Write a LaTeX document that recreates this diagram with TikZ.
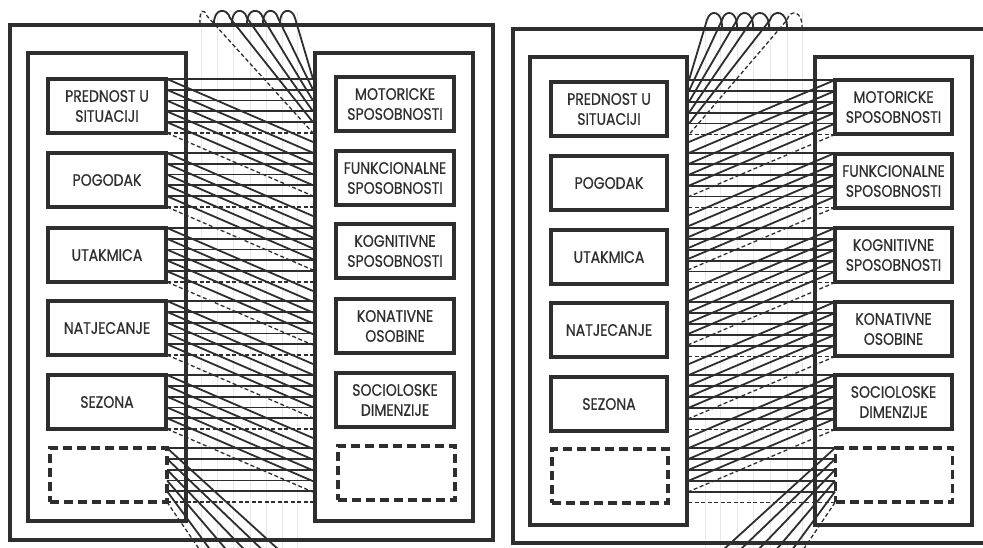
\documentclass[tikz,border=0pt]{standalone}
\usepackage{fontspec}
\setmainfont{Poppins}[FakeStretch=0.85,FakeBold=0.6]
\definecolor{ink}{HTML}{2E2E2E}
\begin{document}
\begin{tikzpicture}[x=1pt,y=-1pt,
  frame/.style={draw=ink,line width=3.5pt},
  tbox/.style={draw=ink,line width=3.5pt,minimum width=118pt,minimum height=54pt,inner sep=0pt,align=center,font=\fontsize{16.5}{20}\selectfont,text=ink},
  dbox/.style={tbox,dash pattern=on 9pt off 5pt},
  strand/.style={draw=ink,line width=1.8pt},
  dstrand/.style={draw=ink,line width=1.3pt,dash pattern=on 4pt off 2.5pt},
  guide/.style={draw=black!9,line width=0.5pt}]
\useasboundingbox (0,0) rectangle (983,548);
\fill[white] (0,0) rectangle (983,548);
% faint guides
\foreach \x in {201,217,233,250,266,282,297} \draw[guide] (\x,12) -- (\x,548);
\foreach \x in {705,720,737,753,770,787,802} \draw[guide] (\x,12) -- (\x,548);
% ================= LEFT PANEL =================
\draw[frame] (10,25) rectangle (493,540);
\draw[frame] (28,53) rectangle (186,521);
\draw[frame] (315,53) rectangle (473,521);
% horizontals
\foreach \t in {79,153,228,301,375,448} {
  \foreach \j in {0,...,4} \draw[strand] (167,\t+\j*10.8) -- (313,\t+\j*10.8);
  \draw[dstrand] (167,\t+54) -- (313,\t+54);
}
% diagonals
\foreach \t in {79,153,228,301,375} {
  \foreach \j in {0,...,4} \draw[strand] (167,\t+\j*10.8) -- (313,\t+\j*10.8+63);
  \draw[dstrand] (167,\t+54) -- (313,\t+117);
}
% top loops
\draw[dstrand] (200,24) .. controls (199,9) and (204,8) .. (207,16) -- (313,133);
\foreach \n/\f/\l in {214/230/122.2,232/247/111.4,247/263/100.6,263/278/89.8,280/295/79}
  \draw[strand] (\n,25) .. controls (\n-1,8) and (\f-3,7) .. (\f,18) -- (313,\l);
% bottom fan
\foreach \j/\x in {0/279,1/262.5,2/244.7,3/226.6,4/210.4}
  \draw[strand] (167,448+\j*10.8) -- (\x,550);
\draw[dstrand] (167,502) -- (199.8,550);
% boxes
\node[tbox] (lp1) at (107,106) {PREDNOST U\\SITUACIJI};
\node[tbox] (lp2) at (107,180) {POGODAK};
\node[tbox] (lp3) at (107,255) {UTAKMICA};
\node[tbox] (lp4) at (107,328) {NATJECANJE};
\node[tbox] (lp5) at (107,402) {SEZONA};
\node[dbox,minimum width=117pt] (lp6) at (108.5,475) {};
\node[tbox] (lq1) at (395,104) {MOTORICKE\\SPOSOBNOSTI};
\node[tbox] (lq2) at (395,178) {FUNKCIONALNE\\SPOSOBNOSTI};
\node[tbox] (lq3) at (395,251) {KOGNITIVNE\\SPOSOBNOSTI};
\node[tbox] (lq4) at (395,326) {KONATIVNE\\OSOBINE};
\node[tbox] (lq5) at (395,400) {SOCIOLOSKE\\DIMENZIJE};
\node[dbox,minimum width=117pt] (lq6) at (396.5,473) {};
% ================= RIGHT PANEL =================
\draw[frame] (513,29) rectangle (992,543);
\draw[frame] (530,57) rectangle (687,525);
\draw[frame] (815,57) rectangle (972,525);
\foreach \t in {80,153,228,302,375,448} {
  \foreach \j in {0,...,4} \draw[strand] (835,\t+\j*10.9) -- (688,\t+\j*10.9);
  \draw[dstrand] (835,\t+54.5) -- (688,\t+54.5);
}
\foreach \t in {80,153,228,302,375} {
  \foreach \j in {0,...,4} \draw[strand] (835,\t+\j*10.9) -- (689,\t+\j*10.9+62);
  \draw[dstrand] (835,\t+54.5) -- (689,\t+116.5);
}
\foreach \n/\f/\l in {722/707/80,737/722/90.9,753/737/101.8,769/752/112.7,787/770/123.6}
  \draw[strand] (\n,29) .. controls (\n+1,10) and (\f+3,9) .. (\f,20) -- (689,\l);
\draw[dstrand] (802,29) .. controls (803,10) and (790,9) .. (787,20) -- (689,134.5);
\foreach \j/\x in {0/723,1/740,2/758,3/776,4/792}
  \draw[strand] (835,448+\j*10.9) -- (\x,550);
\draw[dstrand] (835,502.5) -- (803,550);
\node[tbox,minimum width=116pt] (rp1) at (609,109) {PREDNOST U\\SITUACIJI};
\node[tbox,minimum width=116pt] (rp2) at (609,183) {POGODAK};
\node[tbox,minimum width=116pt] (rp3) at (609,257) {UTAKMICA};
\node[tbox,minimum width=116pt] (rp4) at (609,330) {NATJECANJE};
\node[tbox,minimum width=116pt] (rp5) at (609,404) {SEZONA};
\node[dbox,minimum width=116pt] (rp6) at (610,476) {};
\node[tbox,minimum width=117pt] (rq1) at (893.5,107) {MOTORICKE\\SPOSOBNOSTI};
\node[tbox,minimum width=117pt] (rq2) at (893.5,181) {FUNKCIONALNE\\SPOSOBNOSTI};
\node[tbox,minimum width=117pt] (rq3) at (893.5,255) {KOGNITIVNE\\SPOSOBNOSTI};
\node[tbox,minimum width=117pt] (rq4) at (893.5,329) {KONATIVNE\\OSOBINE};
\node[tbox,minimum width=117pt] (rq5) at (893.5,402) {SOCIOLOSKE\\DIMENZIJE};
\node[dbox,minimum width=117pt] (rq6) at (894,475) {};
\end{tikzpicture}
\end{document}
